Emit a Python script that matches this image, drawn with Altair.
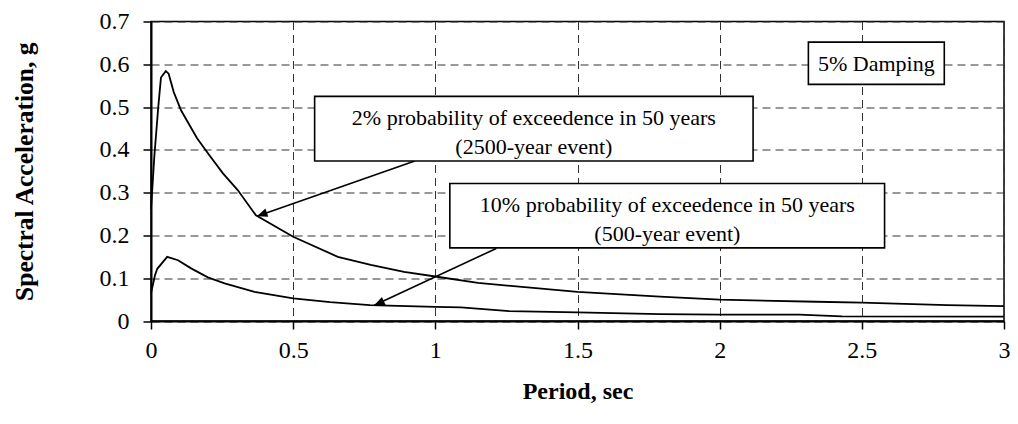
import math
import altair as alt
import pandas as pd

# ---- data ----
period_2pct = [0.0, 0.0115, 0.0255, 0.035, 0.052, 0.062, 0.080, 0.106, 0.162, 0.206,
               0.253, 0.305, 0.369, 0.5, 0.657, 0.773, 0.89, 1.0, 1.15, 1.5, 1.79,
               2.0, 2.34, 2.5, 2.8, 3.0]
sa_2pct = [0.26, 0.383, 0.50, 0.569, 0.584, 0.578, 0.535, 0.492, 0.427, 0.387,
           0.345, 0.306, 0.247, 0.197, 0.150, 0.131, 0.115, 0.104, 0.089, 0.068, 0.057,
           0.050, 0.045, 0.043, 0.037, 0.035]

period_10pct = [0.0, 0.014, 0.022, 0.057, 0.095, 0.141, 0.2, 0.259, 0.364, 0.5, 0.63,
                0.77, 1.0, 1.09, 1.26, 1.5, 1.79, 2.0, 2.28, 2.43, 3.0]
sa_10pct = [0.065, 0.107, 0.122, 0.150, 0.142, 0.123, 0.102, 0.088, 0.068, 0.053, 0.044,
            0.037, 0.033, 0.032, 0.023, 0.020, 0.016, 0.015, 0.015, 0.011, 0.010]

x_ticks = [0, 0.5, 1, 1.5, 2, 2.5, 3]
y_ticks = [0, 0.1, 0.2, 0.3, 0.4, 0.5, 0.6, 0.7]

# annotation boxes (data coordinates)
box_x1 = [0.5755, 1.051, 2.312]
box_x2 = [2.1175, 2.580, 2.790]
box_y1 = [0.374, 0.171, 0.553]
box_y2 = [0.525, 0.3213, 0.6517]

label_text = ["2% probability of exceedence in 50 years", "(2500-year event)",
              "10% probability of exceedence in 50 years", "(500-year event)",
              "5% Damping"]
label_x = [1.3465, 1.3465, 1.816, 1.816, 2.551]
label_y = [0.4736, 0.4067, 0.270, 0.203, 0.6012]

arrow_start_x = [0.9276, 1.2143]
arrow_start_y = [0.374, 0.1696]
arrow_tip_x = [0.3727, 0.7853]
arrow_tip_y = [0.245, 0.0366]

W, H = 853, 299.5
XMAX, YMAX = 3.0, 0.7
FONT = "Liberation Serif"

curves = pd.concat([
    pd.DataFrame({"T": period_2pct, "v": sa_2pct, "s": "2%"}),
    pd.DataFrame({"T": period_10pct, "v": sa_10pct, "s": "10%"}),
])
boxes = pd.DataFrame({"T": box_x1, "T2": box_x2, "v": box_y1, "v2": box_y2})
labels = pd.DataFrame({"T": label_x, "v": label_y, "label": label_text})

angles = []
for sx, sy, tx, ty in zip(arrow_start_x, arrow_start_y, arrow_tip_x, arrow_tip_y):
    dx = (tx - sx) * W / XMAX
    dy = -(ty - sy) * H / YMAX
    angles.append(math.degrees(math.atan2(dx, -dy)) % 360)
arrows = pd.DataFrame({"T": arrow_start_x, "v": arrow_start_y,
                       "T2": arrow_tip_x, "v2": arrow_tip_y})
heads = pd.DataFrame({"T": arrow_tip_x, "v": arrow_tip_y, "ang": angles})

xscale = alt.Scale(domain=[0, XMAX], nice=False, zero=False)
yscale = alt.Scale(domain=[0, YMAX], nice=False, zero=False)

common_axis = dict(
    grid=True, gridDash=[8, 5], gridColor="#333333", gridWidth=1, gridOpacity=1,
    domainColor="black", domainWidth=2, tickColor="black", tickSize=8, tickWidth=1.5,
    labelFont=FONT, labelFontSize=24, labelColor="black",
    titleFont=FONT, titleFontWeight="bold", titleColor="black",
    format="~g", labelOverlap=False, labelBound=False,
)

xaxis = alt.Axis(values=x_ticks, title="Period, sec", labelFlush=False,
                 labelPadding=9, titleY=70, titleBaseline="middle", titleFontSize=24,
                 **common_axis)
yaxis = alt.Axis(values=y_ticks, title="Spectral Acceleration, g",
                 labelPadding=14, titleX=-127, titleBaseline="middle", titleFontSize=25.5,
                 **common_axis)

lines = alt.Chart(curves).mark_line(color="black", strokeWidth=1.8).encode(
    x=alt.X("T:Q", scale=xscale, axis=xaxis),
    y=alt.Y("v:Q", scale=yscale, axis=yaxis),
    detail="s:N",
)

arrow_lines = alt.Chart(arrows).mark_rule(color="black", strokeWidth=1.6).encode(
    x="T:Q", y="v:Q", x2="T2:Q", y2="v2:Q"
)

arrow_heads = alt.Chart(heads).mark_point(
    shape="M0,0L-0.42,1L0.42,1Z", filled=True, color="black", opacity=1, size=440
).encode(x="T:Q", y="v:Q", angle=alt.Angle("ang:Q", scale=None))

box_rects = alt.Chart(boxes).mark_rect(fill="white", stroke="black", strokeWidth=1.6).encode(
    x="T:Q", x2="T2:Q", y="v:Q", y2="v2:Q"
)

texts = alt.Chart(labels).mark_text(
    font=FONT, fontSize=22, color="black", align="center", baseline="middle"
).encode(x="T:Q", y="v:Q", text="label:N")

chart = alt.layer(lines, arrow_lines, box_rects, texts, arrow_heads).properties(
    width=W, height=H,
    autosize=alt.AutoSizeParams(type="none"),
    padding={"left": 143, "top": 13.5, "right": 6, "bottom": 86},
    background="white",
).configure_view(stroke="black", strokeWidth=1.5)

chart.save("out.html", embed_options={"renderer": "svg", "actions": False})
